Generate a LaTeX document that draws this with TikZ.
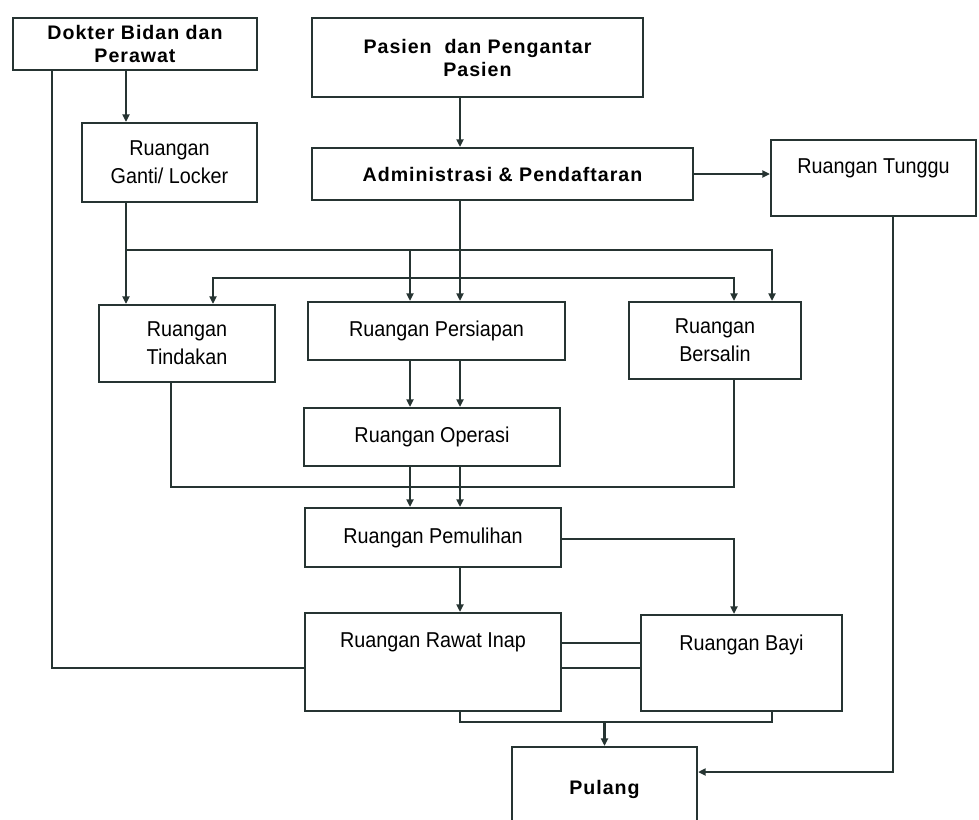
\documentclass[tikz,border=0pt]{standalone}
\usepackage{fontspec}
\setmainfont{Liberation Sans}
\newfontfamily\roomfont{Liberation Sans}[FakeStretch=0.92]
\newfontfamily\headfont{Liberation Sans}[LetterSpace=5]
\usetikzlibrary{arrows.meta}
\definecolor{ink}{RGB}{38,52,50}
\begin{document}
\begin{tikzpicture}[x=1pt,y=-1pt,
  box/.style={draw=ink,line width=2.2pt,rectangle,inner sep=0pt,align=center,text=black},
  room/.style={box,font=\roomfont\fontsize{21.5}{28}\selectfont},
  head/.style={box,font=\headfont\bfseries\fontsize{19.6}{23}\selectfont},
  toptext/.style={text height=15.5pt,text depth=#1},
  link/.style={draw=ink,line width=2.8pt},
  arr/.style={link,-{Triangle[length=7.5pt,width=7pt]}}]
\useasboundingbox (0,0) rectangle (979,819);
\fill[white] (0,0) rectangle (979,819);
\clip (0,0) rectangle (979,819);

% rooms and actors
\node[head,minimum width=244,minimum height=52] (dok) at (135,44) {Dokter Bidan dan\\Perawat};
\node[head,minimum width=331,minimum height=79] (pas) at (477.5,57.5) {Pasien\ \ dan Pengantar\\Pasien};
\node[head,minimum width=381,minimum height=52] (adm) at (502.5,174) {Administrasi \& Pendaftaran};
\node[room,toptext=25.5pt,minimum width=205,minimum height=76] (tun) at (873.5,178) {Ruangan Tunggu};
\node[room,minimum width=175,minimum height=79] (gan) at (169.5,162.5) {Ruangan\\Ganti/ Locker};
\node[room,minimum width=176,minimum height=77] (tin) at (187,343.5) {Ruangan\\Tindakan};
\node[room,minimum width=257,minimum height=58] (per) at (436.5,331) {Ruangan Persiapan};
\node[room,minimum width=172,minimum height=77] (ber) at (715,340.5) {Ruangan\\Bersalin};
\node[room,minimum width=256,minimum height=58] (ope) at (432,437) {Ruangan Operasi};
\node[room,minimum width=256,minimum height=59] (pem) at (433,537.5) {Ruangan Pemulihan};
\node[room,toptext=45.5pt,minimum width=256,minimum height=98] (raw) at (433,662) {Ruangan Rawat Inap};
\node[room,toptext=41.5pt,minimum width=201,minimum height=96] (bay) at (741.5,663) {Ruangan Bayi};
\node[head,minimum width=185,minimum height=84] (pul) at (604.5,789) {Pulang};

% vertical tracks
\coordinate (xA) at (52,0);
\coordinate (xB) at (126,0);
\coordinate (xC) at (171,0);
\coordinate (xD) at (213,0);
\coordinate (xE) at (410,0);
\coordinate (xF) at (460,0);
\coordinate (xH) at (734,0);
\coordinate (xI) at (772,0);
\coordinate (xJ) at (893,0);
% horizontal tracks
\coordinate (y1) at (0,250);
\coordinate (y2) at (0,278);
\coordinate (y3) at (0,487);
\coordinate (y4) at (0,539);
\coordinate (y5) at (0,643);
\coordinate (y6) at (0,668);
\coordinate (y7) at (0,722);
\coordinate (y8) at (0,772);

% staff entrance
\draw[arr] (xB |- dok.south) -- (xB |- gan.north);
\draw[link] (xA |- dok.south) -- (xA |- y6) -- (raw.west |- y6);
\draw[arr] (xB |- gan.south) -- (xB |- tin.north);
\draw[arr] (xB |- y1) -| (xE |- per.north);
\draw[arr] (xB |- y1) -| (xI |- ber.north);

% patient entrance
\draw[arr] (xF |- pas.south) -- (xF |- adm.north);
\draw[arr] (adm.east) -- (adm.east -| tun.west);
\draw[arr] (xF |- adm.south) -- (xF |- per.north);
\draw[arr] (xF |- y2) -| (xD |- tin.north);
\draw[arr] (xF |- y2) -| (xH |- ber.north);

% operating block
\draw[arr] (xE |- per.south) -- (xE |- ope.north);
\draw[arr] (xF |- per.south) -- (xF |- ope.north);
\draw[arr] (xE |- ope.south) -- (xE |- pem.north);
\draw[arr] (xF |- ope.south) -- (xF |- pem.north);
\draw[link] (xC |- tin.south) -- (xC |- y3) -- (xH |- y3) -- (xH |- ber.south);

% recovery and wards
\draw[arr] (xF |- pem.south) -- (xF |- raw.north);
\draw[arr] (pem.east |- y4) -| (xH |- bay.north);
\draw[link] (raw.east |- y5) -- (bay.west |- y5);
\draw[link] (raw.east |- y6) -- (bay.west |- y6);

% discharge
\draw[link] (xF |- raw.south) -- (xF |- y7) -- (xI |- y7) -- (xI |- bay.south);
\draw[arr] (pul.north |- y7) -- (pul.north);
\draw[arr] (xJ |- tun.south) -- (xJ |- y8) -- (pul.east |- y8);
\end{tikzpicture}
\end{document}
